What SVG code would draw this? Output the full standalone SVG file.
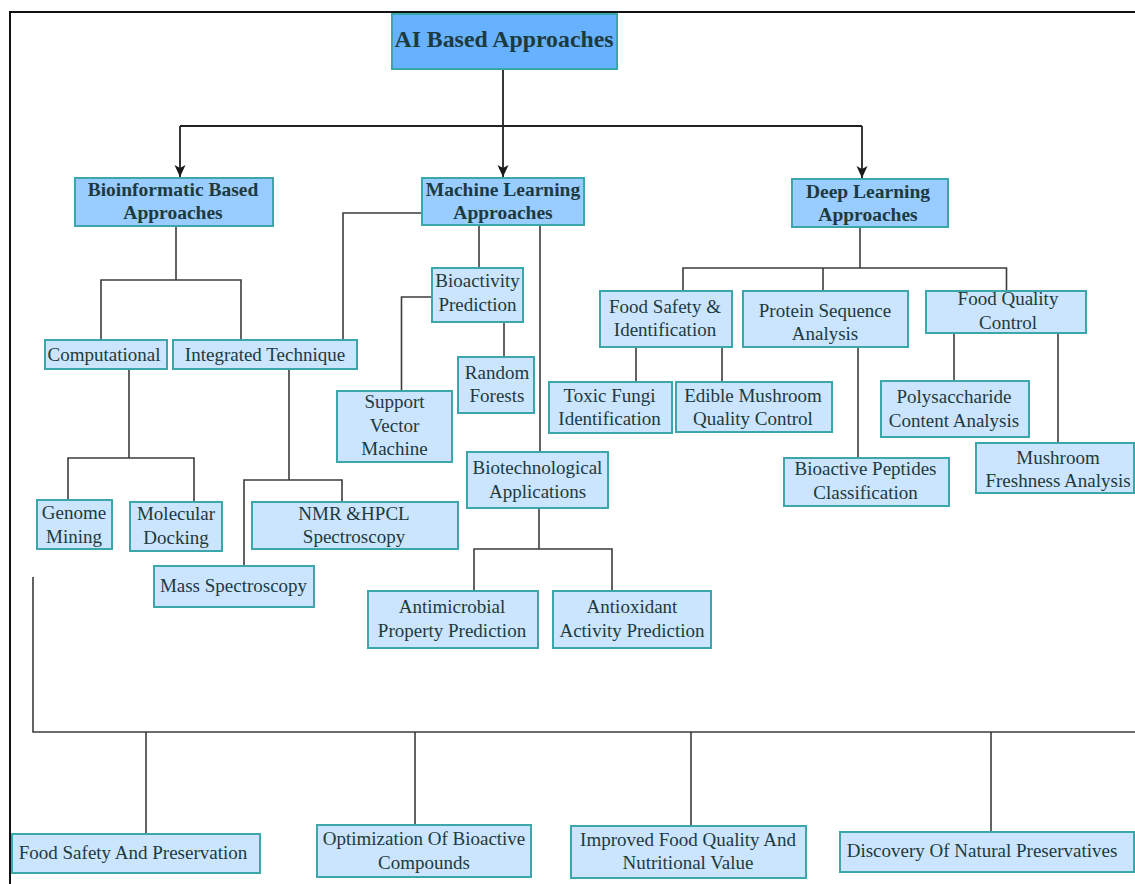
<svg xmlns="http://www.w3.org/2000/svg" width="1135" height="884" viewBox="0 0 1135 884">
<style>
.n{fill:#cce5ff;stroke:#3ba7ab;stroke-width:2}
.h{fill:#99ccff;stroke:#3ba7ab;stroke-width:2}
.r{fill:#66b2ff;stroke:#3ba7ab;stroke-width:2}
text{font-family:'Liberation Serif','Times New Roman',serif;font-size:19px;fill:#1d3a3e;text-anchor:middle}
.b{font-weight:bold;font-size:19.5px}
.t{font-weight:bold;font-size:23.8px}
.c{fill:none;stroke:#3c3c3c;stroke-width:1.6}
.a{fill:none;stroke:#222;stroke-width:1.8}
</style>
<defs>
<marker id="ar" markerUnits="userSpaceOnUse" markerWidth="12" markerHeight="12" refX="12" refY="6" orient="auto" viewBox="0 0 12 12">
<path d="M0,0.5 L12,6 L0,11.5 L3,6 z" fill="#1a1a1a"/>
</marker>
</defs>
<path d="M10,884 V12 H1135" fill="none" stroke="#111" stroke-width="2"/>
<g id="connectors">
<path class="a" d="M503,69 V177" marker-end="url(#ar)"/>
<path class="a" d="M180,126 H862"/>
<path class="a" d="M180,126 V177" marker-end="url(#ar)"/>
<path class="a" d="M862,126 V178" marker-end="url(#ar)"/>
<path class="c" d="M176,226 V280 M101,340 V280 H241 V340"/>
<path class="c" d="M422,213 H343 V340"/>
<path class="c" d="M129,369 V458 M68,500 V458 H194 V502"/>
<path class="c" d="M289,369 V480 M244,566 V480 H342 V502"/>
<path class="c" d="M479,225 V268"/>
<path class="c" d="M432,297 H401.5 V391"/>
<path class="c" d="M504,322 V357"/>
<path class="c" d="M540,225 V452"/>
<path class="c" d="M539,508 V549 M474,591 V549 H612 V591"/>
<path class="c" d="M860,228 V268 M683,291 V268 H1006.5 V291 M823,268 V291"/>
<path class="c" d="M636,347 V382 M722,347 V382"/>
<path class="c" d="M858,347 V458"/>
<path class="c" d="M954,333 V381 M1058,333 V443"/>
<path class="c" d="M33,577 V732 H1135 M146,732 V834 M415,732 V825 M691,732 V826 M991,732 V832"/>
</g>
<g id="ai"><rect class="r" x="392" y="14" width="225" height="55"/><text class="t" x="504" y="47">AI Based Approaches</text></g>
<g id="bioinformatic"><rect class="h" x="75" y="178" width="198" height="48"/><text class="b" x="173" y="196">Bioinformatic Based</text><text class="b" x="173" y="219">Approaches</text></g>
<g id="machine-learning"><rect class="h" x="422" y="178" width="162" height="47"/><text class="b" x="503" y="196">Machine Learning</text><text class="b" x="503" y="219">Approaches</text></g>
<g id="deep-learning"><rect class="h" x="792" y="179" width="156" height="48"/><text class="b" x="868" y="198">Deep Learning</text><text class="b" x="868" y="221">Approaches</text></g>
<g id="computational"><rect class="n" x="45" y="340" width="122" height="29"/><text x="104" y="361">Computational</text></g>
<g id="integrated"><rect class="n" x="173" y="340" width="184" height="29"/><text x="265" y="361">Integrated Technique</text></g>
<g id="genome"><rect class="n" x="37" y="500" width="75" height="49"/><text x="74" y="518.5">Genome</text><text x="74" y="542.5">Mining</text></g>
<g id="docking"><rect class="n" x="130" y="502" width="92" height="49"/><text x="176" y="520">Molecular</text><text x="176" y="544">Docking</text></g>
<g id="nmr"><rect class="n" x="252" y="502" width="206" height="47"/><text x="354" y="519.5">NMR &amp;HPCL</text><text x="354" y="543">Spectroscopy</text></g>
<g id="mass"><rect class="n" x="154" y="566" width="160" height="41"/><text x="233.5" y="592">Mass Spectroscopy</text></g>
<g id="svm"><rect class="n" x="337" y="391" width="115" height="71"/><text x="394.5" y="408">Support</text><text x="394.5" y="431.5">Vector</text><text x="394.5" y="455">Machine</text></g>
<g id="bioactivity"><rect class="n" x="432" y="268" width="91" height="54"/><text x="477.5" y="287">Bioactivity</text><text x="477.5" y="311">Prediction</text></g>
<g id="random-forests"><rect class="n" x="458" y="357" width="76" height="56"/><text x="497" y="378.5">Random</text><text x="497" y="402">Forests</text></g>
<g id="biotech"><rect class="n" x="467" y="452" width="141" height="56"/><text x="537.5" y="474">Biotechnological</text><text x="537.5" y="497.5">Applications</text></g>
<g id="antimicrobial"><rect class="n" x="368" y="591" width="170" height="57"/><text x="452" y="613">Antimicrobial</text><text x="452" y="637">Property Prediction</text></g>
<g id="antioxidant"><rect class="n" x="553" y="591" width="158" height="57"/><text x="632" y="613">Antioxidant</text><text x="632" y="637">Activity Prediction</text></g>
<g id="food-safety-id"><rect class="n" x="600" y="291" width="132" height="56"/><text x="665" y="312.5">Food Safety &amp;</text><text x="665" y="336">Identification</text></g>
<g id="protein"><rect class="n" x="743" y="291" width="165" height="56"/><text x="825" y="317">Protein Sequence</text><text x="825" y="340">Analysis</text></g>
<g id="food-quality"><rect class="n" x="926" y="291" width="160" height="42"/><text x="1008" y="305">Food Quality</text><text x="1008" y="329">Control</text></g>
<g id="toxic-fungi"><rect class="n" x="549" y="382" width="123" height="51"/><text x="609.5" y="401.5">Toxic Fungi</text><text x="609.5" y="425">Identification</text></g>
<g id="edible"><rect class="n" x="676" y="382" width="156" height="50"/><text x="753" y="401.5">Edible Mushroom</text><text x="753" y="425">Quality Control</text></g>
<g id="polysaccharide"><rect class="n" x="881" y="381" width="148" height="56"/><text x="954" y="403">Polysaccharide</text><text x="954" y="426.5">Content Analysis</text></g>
<g id="peptides"><rect class="n" x="784" y="458" width="165" height="48"/><text x="865.5" y="475">Bioactive Peptides</text><text x="865.5" y="498.5">Classification</text></g>
<g id="freshness"><rect class="n" x="976" y="443" width="158" height="50"/><text x="1058" y="463.5">Mushroom</text><text x="1058" y="486.5">Freshness Analysis</text></g>
<g id="food-safety-preservation"><rect class="n" x="12" y="834" width="248" height="39"/><text x="133" y="858.5">Food Safety And Preservation</text></g>
<g id="optimization"><rect class="n" x="317" y="825" width="214" height="52"/><text x="424" y="845">Optimization Of Bioactive</text><text x="424" y="868.5">Compounds</text></g>
<g id="improved"><rect class="n" x="571" y="826" width="235" height="52"/><text x="688" y="846">Improved Food Quality And</text><text x="688" y="869">Nutritional Value</text></g>
<g id="discovery"><rect class="n" x="840" y="832" width="294" height="40"/><text x="982" y="857">Discovery Of Natural Preservatives</text></g>
</svg>
